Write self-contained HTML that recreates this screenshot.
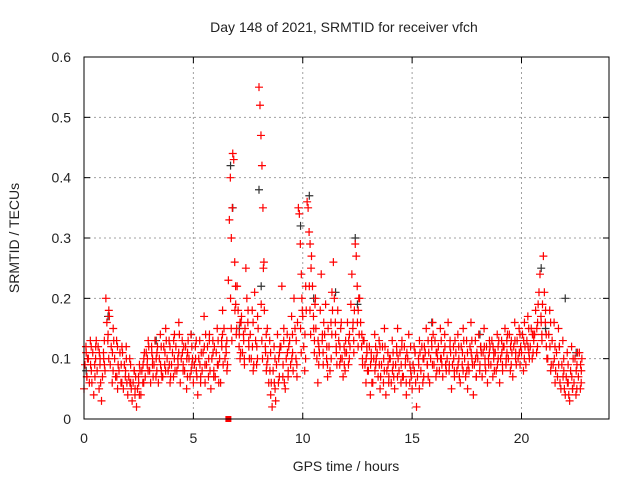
<!DOCTYPE html>
<html><head><meta charset="utf-8"><style>
body{margin:0;background:#fff}
svg text{font-family:"Liberation Sans",sans-serif;font-size:14px;fill:#222}
</style></head><body>
<svg id="chart" width="640" height="480" xmlns="http://www.w3.org/2000/svg">
<rect width="640" height="480" fill="#fff"/>
<text x="344" y="32" text-anchor="middle">Day 148 of 2021, SRMTID for receiver vfch</text>
<text x="346" y="471" text-anchor="middle">GPS time / hours</text>
<text transform="translate(19,238) rotate(-90)" text-anchor="middle">SRMTID / TECUs</text>
<g id="grid"></g>
<g id="ticks"></g>
<g id="black"></g>
<g id="red"></g>
<rect x="84" y="57" width="525" height="362" fill="none" stroke="#000" stroke-width="1"/>
</svg>
<script>
const xTicks=[0,5,10,15,20];
const yTicks=[0,0.1,0.2,0.3,0.4,0.5,0.6];
const yTickLabels=["0","0.1","0.2","0.3","0.4","0.5","0.6"];
const slotStep=0.2;
const redVals=[
[.05,.09,.12,.07],[.10,.06,.13,.08],[.11,.04,.09,.12],[.08,.12,.05,.10],[.03,.07,.11,.09],
[.20,.16,.13,.18],[.09,.12,.06,.15],[.10,.07,.13,.05],[.08,.11,.06,.12],[.05,.09,.07,.10],
[.04,.07,.10,.06],[.03,.06,.08,.05],[.02,.05,.07,.09],[.04,.08,.06,.10],[.07,.11,.09,.13],
[.08,.06,.12,.10],[.09,.13,.07,.11],[.06,.10,.14,.08],[.07,.12,.09,.15],[.10,.08,.13,.06],
[.09,.11,.07,.14],[.12,.08,.10,.16],[.06,.10,.13,.09],[.08,.12,.05,.11],[.10,.07,.14,.09],
[.06,.09,.12,.08],[.04,.10,.13,.07],[.08,.11,.17,.06],[.09,.12,.07,.14],[.05,.10,.13,.08],
[.07,.11,.15,.09],[.10,.06,.13,.18],[.15,.10,.12,.08],[.23,.33,.40,.30,.35],[.44,.43,.26,.19,.15],
[.22,.18,.12,.10,.16],[.17,.11,.14,.09],[.25,.20,.16,.12],[.14,.10,.18,.08],[.21,.13,.09,.17],
[.55,.52,.47,.42,.35,.26],[.25,.18,.12,.08,.15],[.10,.06,.13,.04],[.02,.08,.12,.05],[.09,.14,.06,.11],
[.12,.22,.07,.15],[.05,.10,.14,.08],[.13,.09,.17,.11],[.20,.15,.10,.07],[.35,.34,.29,.24,.18],
[.17,.12,.08,.22],[.36,.35,.31,.29,.25],[.27,.22,.17,.13,.20],[.15,.10,.06,.12],[.18,.24,.13,.09],
[.14,.19,.10,.07],[.12,.08,.16,.21],[.26,.20,.16,.11],[.18,.13,.09,.15],[.10,.07,.12,.08],
[.11,.16,.09,.14],[.19,.24,.15,.11],[.29,.27,.22,.18,.14],[.20,.16,.12,.09],[.13,.09,.06,.11],
[.08,.12,.04,.10],[.06,.10,.14,.09],[.11,.07,.13,.05],[.09,.12,.06,.15],[.04,.08,.11,.07],
[.10,.06,.13,.09],[.05,.09,.12,.15],[.08,.11,.06,.13],[.07,.12,.09,.04],[.10,.14,.06,.08],
[.05,.09,.12,.11],[.02,.07,.10,.13],[.08,.12,.06,.10],[.11,.15,.09,.07],[.06,.10,.13,.16],
[.09,.13,.07,.11],[.12,.08,.15,.10],[.07,.11,.14,.09],[.10,.16,.08,.13],[.05,.09,.12,.07],
[.11,.08,.14,.10],[.06,.12,.09,.15],[.10,.07,.13,.05],[.08,.12,.16,.10],[.04,.09,.13,.07],
[.10,.14,.08,.12],[.07,.11,.15,.09],[.12,.06,.10,.13],[.09,.13,.07,.11],[.11,.08,.14,.10],
[.06,.10,.13,.08],[.12,.15,.09,.11],[.10,.14,.08,.13],[.07,.12,.16,.11],[.13,.10,.15,.09],
[.11,.14,.08,.16],[.09,.13,.17,.11],[.12,.15,.10,.14],[.14,.18,.11,.16],[.21,.24,.17,.13],
[.27,.21,.16,.12],[.10,.14,.18,.08],[.13,.09,.16,.06],[.11,.07,.15,.12],[.05,.09,.13,.08],
[.04,.07,.11,.06],[.03,.08,.12,.05],[.06,.10,.04,.09],[.07,.11,.05,.08]];
const redVals2=[
[.11,.07,.10],[.09,.12,.06],[.07,.10,.13],[.11,.09,.06],[.10,.13,.08],
[.14,.10,.17],[.11,.08,.13],[.07,.12,.09],[.09,.06,.11],[.08,.12,.06],
[.06,.09,.05],[.08,.04,.07],[.06,.04,.08],[.09,.06,.11],[.10,.08,.12],
[.11,.09,.07],[.10,.08,.12],[.09,.12,.07],[.11,.08,.13],[.09,.12,.07],
[.13,.10,.08],[.09,.11,.14],[.11,.08,.12],[.10,.07,.13],[.08,.12,.10],
[.10,.13,.07],[.09,.06,.11],[.12,.09,.14],[.10,.13,.08],[.11,.07,.12],
[.09,.13,.06],[.12,.14,.09],[.11,.13,.09],[.20,.15,.13],[.18,.22,.14],
[.14,.16,.11],[.13,.10,.15],[.18,.13,.10],[.12,.16,.09],[.12,.10,.15],
[.19,.13,.10],[.11,.14,.09],[.08,.11,.06],[.06,.10,.03],[.10,.07,.12],
[.09,.13,.06],[.11,.07,.12],[.10,.14,.08],[.13,.09,.16],[.15,.11,.20],
[.14,.10,.18],[.22,.18,.14],[.15,.11,.19],[.13,.09,.11],[.14,.11,.16],
[.12,.09,.15],[.10,.14,.18],[.14,.12,.09],[.12,.10,.16],[.09,.11,.13],
[.13,.10,.12],[.16,.13,.18],[.16,.12,.20],[.14,.10,.13],[.10,.12,.08],
[.09,.11,.06],[.08,.12,.10],[.09,.12,.07],[.10,.08,.12],[.09,.06,.10],
[.08,.11,.07],[.11,.07,.10],[.09,.12,.07],[.10,.06,.11],[.09,.12,.07],
[.08,.11,.06],[.09,.05,.11],[.10,.07,.12],[.09,.13,.11],[.12,.09,.14],
[.11,.08,.10],[.10,.13,.09],[.12,.09,.08],[.09,.12,.11],[.10,.08,.13],
[.09,.12,.07],[.11,.08,.13],[.08,.11,.09],[.11,.13,.09],[.10,.07,.11],
[.09,.12,.11],[.12,.10,.08],[.09,.11,.12],[.12,.10,.08],[.09,.12,.13],
[.11,.09,.12],[.10,.13,.14],[.12,.09,.11],[.13,.10,.09],[.11,.14,.12],
[.13,.10,.12],[.12,.15,.10],[.14,.11,.13],[.15,.12,.19],[.16,.14,.19],
[.18,.14,.10],[.12,.16,.09],[.10,.12,.08],[.09,.12,.06],[.07,.10,.05],
[.06,.09,.04],[.07,.05,.10],[.08,.05,.11],[.09,.06,.10]];
const blackTimes=[0.1,1.1,3.3,4.9,6.7,6.8,7.1,8.0,8.1,9.9,10.3,10.5,11.5,12.4,12.5,15.9,18.1,20.9,21.1,22.0,22.5];
const blackVals=[.08,.17,.13,.14,.42,.35,.15,.38,.22,.32,.37,.20,.21,.30,.19,.16,.14,.25,.15,.20,.11];
const squareT=6.6, squareV=0;

const X0=84,X1=609,Y0=419,Y1=57,XMAX=24,YMAX=0.6;
const sx=t=>X0+(X1-X0)*t/XMAX, sy=v=>Y0-(Y0-Y1)*v/YMAX;
const NS="http://www.w3.org/2000/svg";
function mk(tag,parent,attrs){const e=document.createElementNS(NS,tag);for(const k in attrs)e.setAttribute(k,attrs[k]);parent.appendChild(e);return e;}
const grid=document.getElementById('grid'),ticks=document.getElementById('ticks');
xTicks.forEach(t=>{
 if(t>0){const g=mk('line',grid,{x1:sx(t),x2:sx(t),y1:Y1,y2:Y0,stroke:'#a0a0a0','stroke-dasharray':'2,3'});
 
 }
 mk('line',ticks,{x1:sx(t),x2:sx(t),y1:Y0,y2:Y0-6,stroke:'#000'});
 mk('line',ticks,{x1:sx(t),x2:sx(t),y1:Y1,y2:Y1+6,stroke:'#000'});
 const l=mk('text',ticks,{x:sx(t),y:Y0+24,'text-anchor':'middle'});l.textContent=t;
 
 
});
yTicks.forEach((v,i)=>{
 if(v>0&&v<YMAX){const g=mk('line',grid,{x1:X0,x2:X1,y1:sy(v),y2:sy(v),stroke:'#a0a0a0','stroke-dasharray':'2,3'});
 
 }
 mk('line',ticks,{x1:X0,x2:X0+6,y1:sy(v),y2:sy(v),stroke:'#000'});
 mk('line',ticks,{x1:X1,x2:X1-6,y1:sy(v),y2:sy(v),stroke:'#000'});
 const l=mk('text',ticks,{x:X0-13,y:sy(v)+5,'text-anchor':'end'});l.textContent=yTickLabels[i];
 
 
});
function plus(parent,t,v,color){
 const x=sx(t),y=sy(v);
 const p=mk('path',parent,{d:`M${x-4},${y}h8M${x},${y-4}v8`,stroke:color,'stroke-width':1.2,fill:'none'});
 
 
}
const black=document.getElementById('black'),red=document.getElementById('red');
blackTimes.forEach((t,i)=>plus(black,t,blackVals[i],'#333'));
redVals.forEach((slot,i)=>slot.forEach((v,j)=>plus(red,i*slotStep+j*0.045,v,'#ff0000')));
redVals2.forEach((slot,i)=>slot.forEach((v,j)=>plus(red,i*slotStep+0.1+j*0.03,v,'#ff0000')));
const sq=mk('rect',red,{x:sx(squareT)-3,y:sy(squareV)-3,width:6,height:6,fill:'#ff0000'});


</script>
</body></html>
